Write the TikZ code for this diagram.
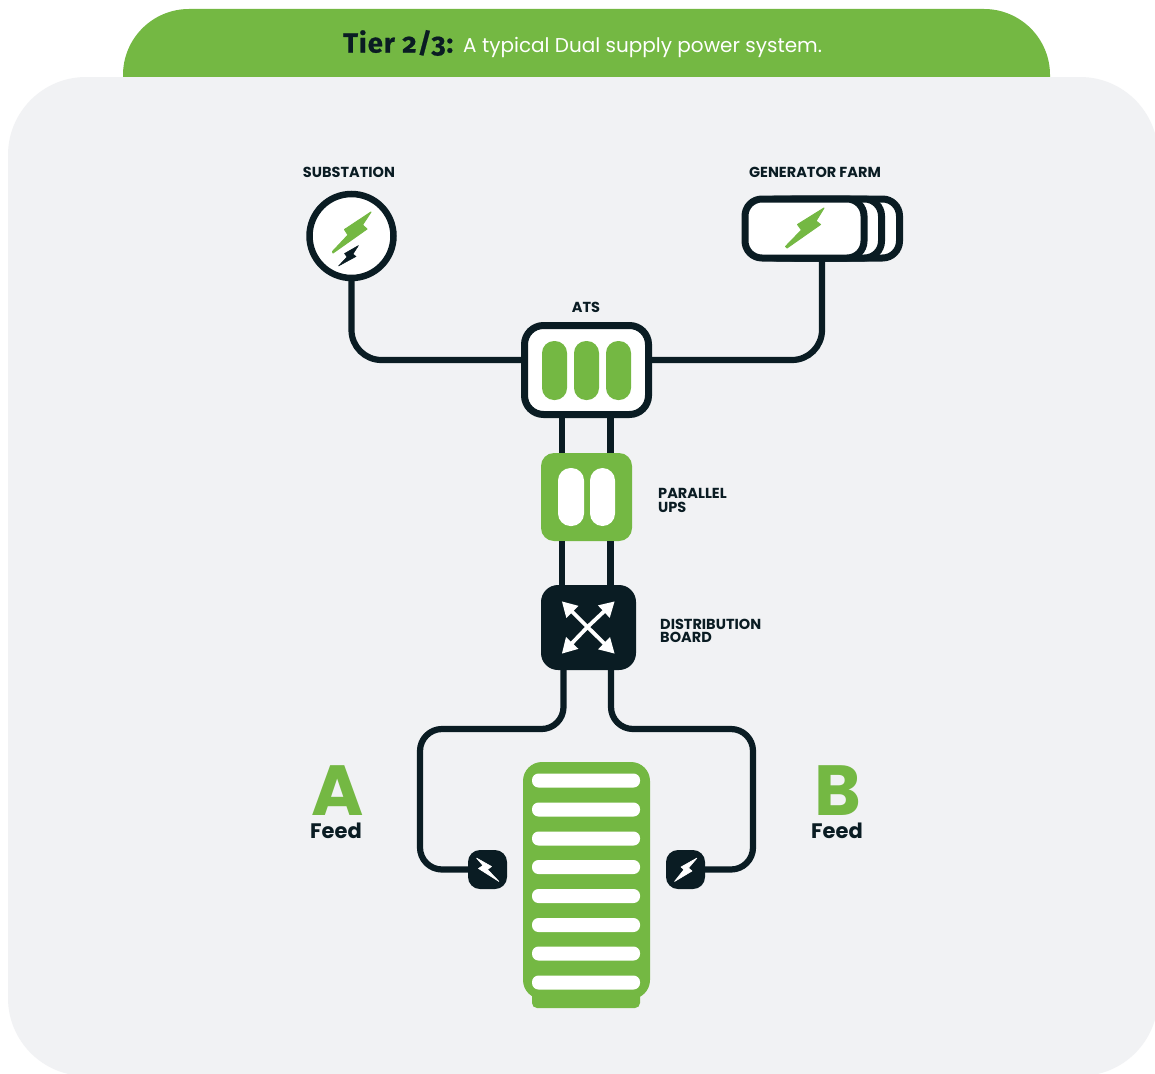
\documentclass[tikz,border=0pt]{standalone}
\usepackage{fontspec}
\setmainfont{Poppins}
\newfontfamily\oldnum[Numbers=OldStyle,LetterSpace=3.5,FakeBold=.7]{Fira Sans}
\usetikzlibrary{arrows.meta,calc}
\definecolor{leaf}{HTML}{74B843}
\definecolor{ink}{HTML}{0A1C23}
\definecolor{panel}{HTML}{F1F2F4}
\newcommand{\fs}[1]{\fontsize{#1}{#1}\selectfont}
\tikzset{
  x=1pt,y=-1pt,
  wire/.style={draw=ink,line width=6.2pt,rounded corners=30pt},
  frame/.style={draw=ink,fill=white,line width=7pt,rectangle,inner sep=0pt,outer sep=0pt},
  pill/.style={rectangle,rounded corners=#1,inner sep=0pt,outer sep=0pt},
  label/.style={font=\bfseries\fs{14.5},text=ink,inner sep=0pt,align=left},
  slot/.style={pill=6.5pt,fill=white,minimum width=108pt,minimum height=14pt},
  bolt/.style={line join=round,line width=1pt},
  spread/.style={draw=white,line width=3.8pt,-{Triangle[length=15pt,width=16pt]},shorten >=-1pt},
  breaker/.style={pill=12pt,fill=ink,minimum size=39pt},
  letter/.style={font=\bfseries\fs{71},text=leaf,inner sep=0pt,text height=50pt,text depth=0pt},
  feed/.style={font=\bfseries\fs{21},text=ink,inner sep=0pt,text height=15pt,text depth=0pt}
}
\begin{document}
\begin{tikzpicture}
\useasboundingbox (0,0) rectangle (1155,1073);
\clip (0,0) rectangle (1155,1073);
\fill[white] (0,0) rectangle (1155,1073);
% tab and panel
\node[rectangle,fill=leaf,rounded corners=66pt,minimum width=927pt,minimum height=180pt,inner sep=0pt,outer sep=0pt] (tab) at (586.5,99) {};
\node[rectangle,fill=panel,rounded corners=78pt,minimum width=1150pt,minimum height=999pt,inner sep=0pt,outer sep=0pt] (panelbox) at (583,576.5) {};
\node[anchor=west,inner sep=0pt,font=\bfseries\fs{27.5},text=ink] (tiertitle) at (343,43) {\oldnum Tier 2/3:};
\node[anchor=west,inner sep=0pt,font=\fs{20},text=white] (tiertext) at (463,47.5) {A typical Dual supply power system.};
% substation
\node[circle,draw=ink,fill=white,line width=6.5pt,minimum size=84pt,inner sep=0pt,outer sep=0pt] (sub) at (351.5,236) {};
\fill[leaf,draw=leaf,bolt] (371,212) -- (362.5,225) -- (367,229) -- (333,253) -- (332.5,251.5) -- (348,235) -- (344.5,229.5) -- cycle;
\fill[ink,draw=ink,bolt,line width=.5pt] (358.5,245.5) -- (353,254) -- (356,256.5) -- (338.5,266) -- (347,257) -- (344.5,253.5) -- cycle;
\node[label,anchor=center] (sublabel) at (349,172) {SUBSTATION};
% generator farm
\node[frame,rounded corners=17pt,minimum width=122pt,minimum height=59pt] (gen3) at (838.5,228.5) {};
\node[frame,rounded corners=17pt,minimum width=122pt,minimum height=59pt] (gen2) at (820.5,228.5) {};
\node[frame,rounded corners=17pt,minimum width=119pt,minimum height=59pt] (gen1) at (804.5,228.5) {};
\fill[leaf,draw=leaf,bolt] (824,208) -- (816,221) -- (820.5,224.5) -- (787,248) -- (785.5,246.5) -- (801.5,230) -- (797.5,224.5) -- cycle;
\node[label,anchor=center] (genlabel) at (815,172) {GENERATOR FARM};
% ATS
\node[frame,rounded corners=19pt,minimum width=124pt,minimum height=89pt] (ats) at (586.5,370) {};
\node[pill=12pt,fill=leaf,minimum width=25pt,minimum height=59pt] (atsa) at (554.5,370.5) {};
\node[pill=12pt,fill=leaf,minimum width=25pt,minimum height=59pt] (atsb) at (586.5,370.5) {};
\node[pill=12pt,fill=leaf,minimum width=25pt,minimum height=59pt] (atsc) at (618.5,370.5) {};
\node[label,anchor=center] (atslabel) at (586,307) {ATS};
% UPS
\node[pill=13pt,fill=leaf,minimum width=91pt,minimum height=88pt] (ups) at (586.5,497) {};
\node[pill=12.5pt,fill=white,minimum width=26pt,minimum height=58pt] (upsa) at (571,497) {};
\node[pill=12.5pt,fill=white,minimum width=25pt,minimum height=58pt] (upsb) at (602.5,497) {};
\node[label,anchor=west] (upslabela) at (658,493) {PARALLEL};
\node[label,anchor=west] (upslabelb) at (658,507) {UPS};
% distribution board
\node[pill=17pt,fill=ink,minimum width=95pt,minimum height=85pt] (dist) at (588.5,627.5) {};
\coordinate (hub) at (587.5,627);
\coordinate (nw) at (562.5,602);
\coordinate (ne) at (614,602);
\coordinate (sw) at (562.5,653);
\coordinate (se) at (614,653);
\draw[spread] (hub) -- (nw);
\draw[spread] (hub) -- (ne);
\draw[spread] (hub) -- (sw);
\draw[spread] (hub) -- (se);
\node[label,anchor=west] (distlabela) at (660,624) {DISTRIBUTION};
\node[label,anchor=west] (distlabelb) at (660,637) {BOARD};
% rack
\node[pill=5pt,fill=leaf,minimum width=108pt,minimum height=30pt] (rackbase) at (586,993) {};
\node[pill=19pt,fill=leaf,minimum width=127pt,minimum height=237pt] (rack) at (586.5,880.5) {};
\foreach \n/\y in {1/780.5,2/809.5,3/838.5,4/867,5/896,6/925,7/953.5,8/982.5}
  \node[slot] (slot\n) at (586,\y) {};
% breakers
\node[breaker] (brkA) at (487.5,869.5) {};
\node[breaker] (brkB) at (685.5,869.5) {};
\fill[white,draw=white,bolt,line width=.6pt] (476.5,858) -- (491.5,866.5) -- (487.5,869.5) -- (499,881.5) -- (478.5,868.5) -- (483,865.5) -- cycle;
\fill[white,draw=white,bolt,line width=.6pt] (697,858) -- (688.5,868) -- (692,871) -- (674.5,881.5) -- (684,869.5) -- (681,867) -- cycle;
% feeds
\node[letter,anchor=center] (letA) at (338,790) {A};
\node[letter,anchor=center] (letB) at (838,790) {B};
\node[feed,anchor=center] (feedA) at (336,831) {Feed};
\node[feed,anchor=center] (feedB) at (837,831) {Feed};
% connectors
\draw[wire] (sub.south) -- (351.5,360) -- (ats.west |- 0,360);
\draw[wire] (gen1.south -| 822,0) -- (822,360) -- (ats.east |- 0,360);
\draw[wire,rounded corners=0pt] ($(ats.south)+(-24.5,0)$) -- ($(ups.north)+(-24.5,0)$);
\draw[wire,rounded corners=0pt] ($(ats.south)+(24,0)$) -- ($(ups.north)+(24,0)$);
\draw[wire,rounded corners=0pt] ($(ups.south)+(-24.5,0)$) -- ($(dist.north)+(-26.5,0)$);
\draw[wire,rounded corners=0pt] ($(ups.south)+(24,0)$) -- ($(dist.north)+(22,0)$);
\draw[wire,rounded corners=22pt] ($(dist.south)+(-25,0)$) -- (563.5,729) -- (420,729) -- (420,869.5) -- (brkA.west);
\draw[wire,rounded corners=22pt] ($(dist.south)+(22.5,0)$) -- (611,729) -- (753,729) -- (753,869.5) -- (brkB.east);
\end{tikzpicture}
\end{document}
